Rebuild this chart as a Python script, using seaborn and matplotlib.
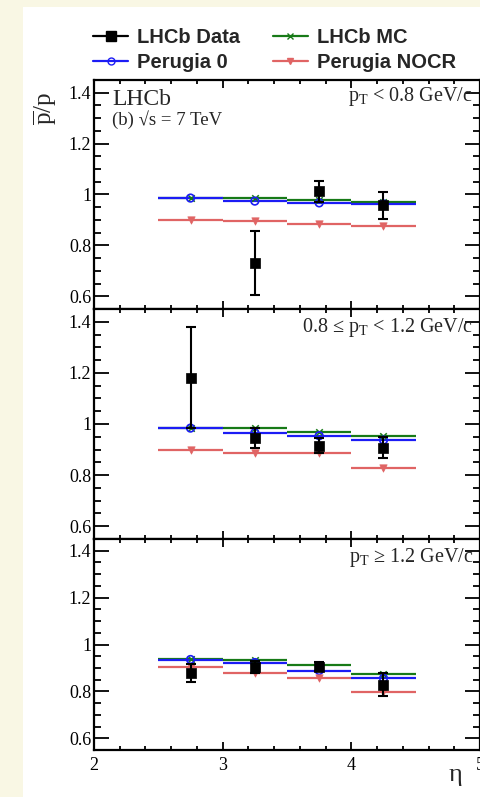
import numpy as np
import pandas as pd
import matplotlib
matplotlib.use('Agg')
import matplotlib.pyplot as plt
from matplotlib.lines import Line2D
from matplotlib.patches import Rectangle
from matplotlib.ticker import MultipleLocator, FormatStrFormatter
import seaborn as sns

# eta bins
bin_lo = [2.5, 3.0, 3.5, 4.0]
bin_hi = [3.0, 3.5, 4.0, 4.5]
eta = [2.75, 3.25, 3.75, 4.25]

pt_labels = [r'p$_\mathrm{T}$ < 0.8 GeV/c',
             r'0.8 ≤ p$_\mathrm{T}$ < 1.2 GeV/c',
             r'p$_\mathrm{T}$ ≥ 1.2 GeV/c']

# pbar/p ratio, one row per pT bin (nan = no measurement)
data_val = [[np.nan, 0.730, 1.013, 0.957],
            [1.181, 0.946, 0.915, 0.907],
            [0.879, 0.903, 0.905, 0.829]]
data_err = [[np.nan, 0.125, 0.041, 0.052],
            [0.198, 0.039, 0.030, 0.041],
            [0.039, 0.026, 0.020, 0.048]]
mc_val = [[0.986, 0.988, 0.979, 0.970],
          [0.984, 0.986, 0.970, 0.953],
          [0.939, 0.932, 0.913, 0.876]]
p0_val = [[0.986, 0.974, 0.967, 0.963],
          [0.984, 0.966, 0.954, 0.937],
          [0.936, 0.923, 0.889, 0.856]]
nocr_val = [[0.900, 0.895, 0.884, 0.876],
            [0.897, 0.885, 0.886, 0.829],
            [0.906, 0.879, 0.856, 0.797]]

sns.set_theme(style='ticks')
plt.rcParams['font.family'] = ['Liberation Serif', 'DejaVu Serif']
plt.rcParams['mathtext.fontset'] = 'custom'
plt.rcParams['mathtext.rm'] = 'Liberation Serif'
plt.rcParams['mathtext.it'] = 'Liberation Serif:italic'

c_data = 'black'
c_mc = '#177a17'
c_p0 = '#1c1cf5'
c_nocr = '#e06464'

W, H = 481, 797
fig = plt.figure(figsize=(W / 100, H / 100), dpi=100, facecolor='#f9f7e4')
fig.patches.append(Rectangle((23 / W, 0), 1, 1 - 7 / H, transform=fig.transFigure,
                             facecolor='white', edgecolor='none', zorder=-10))

gs = fig.add_gridspec(3, 1, left=94 / W, right=480 / W, top=1 - 80 / H, bottom=1 - 750 / H,
                      height_ratios=[229, 230, 211], hspace=0)
axes = [fig.add_subplot(gs[i]) for i in range(3)]

text_y = [0.91, 0.901, 0.89]

for i, ax in enumerate(axes):
    ax.set_facecolor('white')
    # simulation lines over each eta bin
    for vals, col in [(mc_val[i], c_mc), (p0_val[i], c_p0), (nocr_val[i], c_nocr)]:
        ax.hlines(vals, bin_lo, bin_hi, colors=col, linewidth=1.6, zorder=2)

    df = pd.DataFrame({'eta': eta, 'mc': mc_val[i], 'p0': p0_val[i], 'nocr': nocr_val[i],
                       'data': data_val[i], 'err': data_err[i]})

    sns.scatterplot(data=df, x='eta', y='mc', marker='x', color=c_mc, s=22, linewidth=1.1,
                    ax=ax, zorder=3, legend=False)
    sns.scatterplot(data=df, x='eta', y='p0', marker='o', facecolors='none', edgecolor=c_p0,
                    s=30, linewidth=1.2, ax=ax, zorder=3, legend=False)
    sns.scatterplot(data=df, x='eta', y='nocr', marker='v', color=c_nocr, edgecolor=c_nocr,
                    s=28, linewidth=0.5, ax=ax, zorder=3, legend=False)

    d = df.dropna()
    ax.errorbar(d['eta'], d['data'], yerr=d['err'], fmt='none', ecolor=c_data,
                elinewidth=1.5, capsize=3.8, capthick=1.5, zorder=4)
    sns.scatterplot(data=d, x='eta', y='data', marker='s', color=c_data, edgecolor=c_data,
                    s=62, linewidth=0.5, ax=ax, zorder=5, legend=False)

    ax.set_xlim(2, 5)
    ax.set_ylim(0.55, 1.45)
    ax.set_yticks([0.6, 0.8, 1.0, 1.2, 1.4])
    ax.yaxis.set_major_formatter(FormatStrFormatter('%g'))
    ax.yaxis.set_minor_locator(MultipleLocator(0.05))
    ax.set_xticks([2, 3, 4, 5])
    ax.xaxis.set_minor_locator(MultipleLocator(0.2))
    ax.tick_params(which='both', direction='in', top=True, right=True, width=1.3,
                   labelsize=13, colors='black')
    ax.tick_params(axis='y', which='major', length=11, pad=2)
    ax.tick_params(axis='y', which='minor', length=5)
    ax.tick_params(axis='x', which='major', length=6, pad=5)
    ax.tick_params(axis='x', which='minor', length=3)
    for sp in ax.spines.values():
        sp.set_linewidth(1.6)
        sp.set_color('black')
    ax.set_xlabel('')
    ax.set_ylabel('')
    if i < 2:
        ax.tick_params(axis='x', labelbottom=False)

    ax.text(0.982, text_y[i], pt_labels[i], transform=ax.transAxes, ha='right',
            va='baseline', fontsize=14.5)

axes[0].text(0.047, 0.891, 'LHCb', transform=axes[0].transAxes, ha='left',
             va='baseline', fontsize=17)
axes[0].text(0.047, 0.803, '(b) √s = 7 TeV', transform=axes[0].transAxes,
             ha='left', va='baseline', fontsize=13.5)

fig.text(45 / W, 1 - 108 / H, r'$\overline{\mathrm{p}}/\mathrm{p}$', rotation=90,
         ha='center', va='center', fontsize=18)
fig.text(455 / W, 1 - 775 / H, 'η', ha='center', va='center', fontsize=19)

handles = [
    Line2D([], [], color=c_data, marker='s', markersize=7.5, linewidth=1.6),
    Line2D([], [], color=c_p0, marker='o', markersize=5, markerfacecolor='none', linewidth=1.6),
    Line2D([], [], color=c_mc, marker='x', markersize=4.5, linewidth=1.6),
    Line2D([], [], color=c_nocr, marker='v', markersize=5, linewidth=1.6),
]
labels = ['LHCb Data', 'Perugia 0', 'LHCb MC', 'Perugia NOCR']
fig.legend(handles, labels, ncol=2, loc='upper left', bbox_to_anchor=(93 / W, 1 - 28 / H),
           frameon=False, borderpad=0, borderaxespad=0, handlelength=1.75,
           handletextpad=0.45, columnspacing=1.6, labelspacing=0.28,
           prop={'family': 'Liberation Sans', 'weight': 'bold', 'size': 14.5})

fig.savefig('out.png', dpi=100, facecolor=fig.get_facecolor())
